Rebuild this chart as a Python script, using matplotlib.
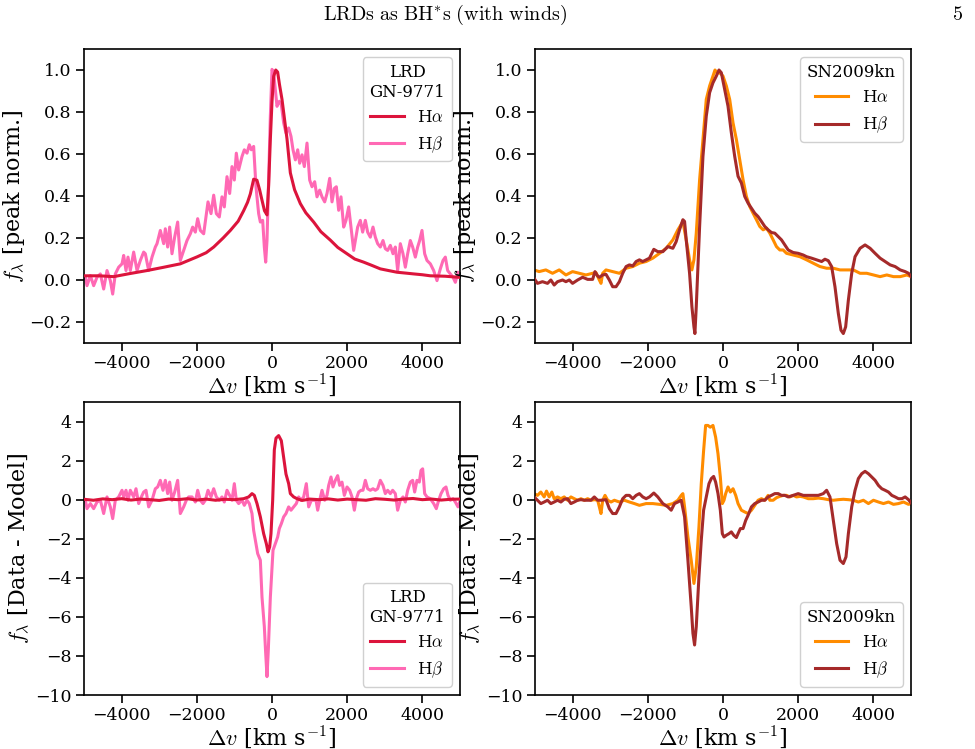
import matplotlib
matplotlib.use("Agg")
import matplotlib.pyplot as plt

plt.rcParams['font.family'] = ['DejaVu Serif']
plt.rcParams['mathtext.fontset'] = 'cm'

# ---------------- data ----------------
# Top-left: LRD GN-9771, peak normalised
lrd_ha_v = [-4964, -4600, -4211, -3800, -3324, -2900, -2438, -1995, -1750, -1550, -1300, -1108,
            -900, -754, -650, -576, -488, -400, -330, -266, -200, -133, -89, -44, 0, 44, 100, 150,
            200, 266, 330, 400, 488, 600, 753, 900, 1108, 1300, 1551, 1750, 1995, 2200, 2438,
            2650, 2881, 3100, 3324, 3550, 3768, 4000, 4211, 4600, 4964]
lrd_ha_f = [0.02, 0.02, 0.016, 0.03, 0.045, 0.06, 0.077, 0.11, 0.13, 0.157, 0.2, 0.236,
            0.28, 0.33, 0.37, 0.41, 0.48, 0.475, 0.43, 0.38, 0.33, 0.31, 0.45, 0.67, 0.85, 0.97, 1.0, 0.99,
            0.93, 0.86, 0.77, 0.67, 0.51, 0.43, 0.364, 0.32, 0.276, 0.23, 0.19, 0.155, 0.125, 0.1, 0.085,
            0.07, 0.053, 0.045, 0.037, 0.033, 0.029, 0.025, 0.02, 0.018, 0.013]

lrd_hb_v = [-4964, -4920, -4831, -4743, -4654, -4565, -4477, -4388, -4300, -4237, -4167, -4078,
            -3989, -3945, -3883, -3830, -3768, -3679, -3590, -3502, -3413, -3369, -3280, -3191,
            -3103, -3058, -2970, -2881, -2837, -2775, -2722, -2660, -2589, -2509, -2438, -2349,
            -2261, -2172, -2110, -2039, -1977, -1906, -1817, -1702, -1622, -1551, -1480, -1401,
            -1330, -1268, -1197, -1126, -1064, -1002, -949, -887, -798, -736, -665, -603, -550,
            -488, -426, -355, -310, -248, -204, -168, -133, -89, -44, 0, 44, 89, 133, 195, 248,
            310, 372, 443, 505, 559, 621, 683, 736, 798, 860, 931, 1002, 1064, 1135, 1197, 1268,
            1330, 1401, 1463, 1534, 1596, 1658, 1711, 1773, 1835, 1906, 1968, 2039, 2101, 2172,
            2216, 2278, 2349, 2411, 2482, 2544, 2615, 2686, 2748, 2810, 2881, 2952, 3014, 3076,
            3147, 3218, 3280, 3342, 3413, 3484, 3546, 3608, 3679, 3741, 3812, 3874, 3927, 3989,
            4060, 4122, 4211, 4300, 4388, 4477, 4548, 4610, 4672, 4743, 4814, 4876, 4947, 5009]
lrd_hb_f = [0.013, -0.027, 0.021, -0.027, 0.013, 0.029, -0.043, 0.045, -0.003, -0.067, 0.029, 0.061,
            0.077, 0.117, 0.045, 0.109, 0.045, 0.133, 0.045, 0.093, 0.133, 0.125, 0.045, 0.109,
            0.157, 0.173, 0.236, 0.173, 0.244, 0.157, 0.252, 0.125, 0.204, 0.276, 0.093, 0.141,
            0.188, 0.220, 0.252, 0.228, 0.292, 0.236, 0.220, 0.372, 0.316, 0.404, 0.316, 0.300,
            0.396, 0.348, 0.492, 0.412, 0.540, 0.476, 0.604, 0.524, 0.588, 0.620, 0.604, 0.644, 0.620,
            0.636, 0.444, 0.316, 0.276, 0.284, 0.157, 0.085, 0.188, 0.476, 0.780, 1.003, 0.987, 0.907, 0.827, 0.851, 0.835,
            0.748, 0.700, 0.724, 0.684, 0.620, 0.572, 0.620, 0.556, 0.596, 0.540, 0.652, 0.476, 0.444, 0.468, 0.396, 0.428,
            0.396, 0.372, 0.412, 0.484, 0.372, 0.436, 0.444, 0.332, 0.396, 0.252, 0.284, 0.348, 0.252, 0.141,
            0.188, 0.252, 0.284, 0.228, 0.284, 0.228, 0.204, 0.252, 0.204, 0.173, 0.157, 0.188, 0.149, 0.141,
            0.165, 0.125, 0.157, 0.045, 0.173, 0.125, 0.061, 0.125, 0.188, 0.157, 0.109, 0.157, 0.188, 0.236,
            0.125, 0.093, 0.077, 0.045, -0.003, 0.053, 0.093, 0.109, 0.045, 0.029, 0.013, -0.011, 0.037, 0.013]

# Top-right: SN2009kn, peak normalised
sn_ha_v = [-5023, -4890, -4712, -4534, -4356, -4178, -4001, -3823, -3645, -3467, -3378, -3289, -3245,
           -3200, -3112, -2934, -2756, -2578, -2400, -2223, -2045, -1867, -1689, -1511, -1334, -1200,
           -1067, -978, -889, -827, -773, -711, -622, -533, -445, -356, -267, -213, -160, -89, 0, 89,
           178, 267, 356, 445, 533, 622, 711, 800, 889, 978, 1067, 1156, 1245, 1334, 1422, 1511, 1600,
           1689, 1867, 2045, 2223, 2400, 2578, 2756, 2934, 3112, 3289, 3467, 3645, 3823, 4001, 4178,
           4356, 4534, 4712, 4890, 5005]
sn_ha_f = [0.048, 0.040, 0.048, 0.032, 0.048, 0.024, 0.040, 0.032, 0.024, 0.032, 0.035, 0.0, -0.016,
           0.032, 0.048, 0.040, 0.032, 0.056, 0.064, 0.080, 0.088, 0.104, 0.127, 0.151, 0.191, 0.239,
           0.278, 0.191, 0.096, 0.048, 0.096, 0.223, 0.478, 0.669, 0.860, 0.924, 0.971, 1.0, 0.987, 0.987, 0.971, 0.924,
           0.860, 0.748, 0.669, 0.573, 0.478, 0.398, 0.350, 0.318, 0.287, 0.255, 0.239, 0.247, 0.223, 0.191, 0.159, 0.143, 0.143,
           0.127, 0.119, 0.111, 0.096, 0.080, 0.064, 0.056, 0.056, 0.048, 0.048, 0.048, 0.032, 0.032, 0.024, 0.016,
           0.024, 0.016, 0.016, 0.024, 0.016]

sn_hb_v = [-5023, -4934, -4801, -4667, -4578, -4490, -4401, -4267, -4178, -4089, -4001, -3867, -3734,
           -3600, -3467, -3405, -3334, -3289, -3200, -3112, -3023, -2934, -2845, -2756, -2667, -2578,
           -2489, -2400, -2311, -2223, -2134, -2045, -1956, -1840, -1734, -1600, -1467, -1334, -1245,
           -1156, -1067, -1022, -978, -889, -827, -773, -747, -711, -622, -533, -445, -356, -267, -178,
           -107, -44, 44, 133, 222, 311, 400, 489, 578, 667, 756, 845, 933, 1022, 1111, 1200, 1289, 1378,
           1467, 1556, 1645, 1734, 1867, 2000, 2134, 2223, 2356, 2489, 2623, 2711, 2800, 2889, 2978, 3067,
           3138, 3200, 3262, 3334, 3423, 3512, 3645, 3778, 3912, 4045, 4178, 4312, 4445, 4578, 4712, 4845,
           4934, 5005]
sn_hb_f = [0.008, -0.016, -0.008, -0.016, 0.0, -0.024, -0.008, 0.0, -0.008, 0.0, -0.016, 0.0, 0.013,
           0.003, 0.003, 0.040, 0.019, 0.013, 0.024, 0.027, 0.0, -0.032, -0.032, -0.008, 0.032, 0.064,
           0.072, 0.067, 0.088, 0.096, 0.088, 0.096, 0.104, 0.146, 0.135, 0.135, 0.159, 0.151, 0.183,
           0.239, 0.287, 0.279, 0.191, 0.032, -0.127, -0.223, -0.255, -0.127, 0.255, 0.589, 0.780, 0.892, 0.939, 0.971,
           1.0, 0.987, 0.908, 0.828, 0.701, 0.589, 0.494, 0.462, 0.398, 0.366, 0.342, 0.318, 0.302, 0.279, 0.255, 0.239, 0.226, 0.223,
           0.207, 0.191, 0.167, 0.143, 0.131, 0.127, 0.119, 0.111, 0.104, 0.096, 0.088, 0.099, 0.092, 0.064, -0.032, -0.159,
           -0.239, -0.255, -0.223, -0.096, 0.032, 0.111, 0.151, 0.167, 0.151, 0.127, 0.104, 0.088, 0.072, 0.064, 0.048, 0.040,
           0.032, 0.016]

# Bottom-left: LRD residuals
lrd_res_ha_v = [-5000, -4750, -4500, -4250, -4000, -3750, -3500, -3250, -3000, -2750, -2500, -2250,
                -2000, -1750, -1500, -1250, -1000, -850, -754, -621, -532, -470, -399, -310, -222,
                -151, -106, -62, -27, 18, 62, 106, 177, 248, 310, 372, 443, 488, 576, 665, 800, 1000,
                1250, 1500, 1750, 2000, 2250, 2500, 2750, 3000, 3250, 3500, 3750, 4000, 4250, 4500,
                4750, 5000]
lrd_res_ha_f = [0.02, -0.03, 0.04, 0.0, 0.05, -0.02, 0.03, 0.0, -0.04, 0.03, 0.0, 0.05,
                -0.02, 0.03, -0.03, 0.02, 0.0, 0.03, 0.05, 0.14, 0.31, 0.22, -0.20, -0.88, -1.74,
                -2.25, -2.67, -2.42, -1.74, -0.03, 2.55, 3.15, 3.28, 3.02, 2.16, 1.31, 0.82, 0.31, 0.14, 0.05, -0.04, 0.03,
                0.0, 0.04, -0.02, 0.03, 0.0, -0.03, 0.05, 0.02, -0.02, 0.03, 0.06, 0.0, 0.03, -0.02,
                0.02, 0.03]

lrd_res_hb_v = [-4964, -4920, -4831, -4743, -4654, -4565, -4477, -4388, -4300, -4237, -4167, -4078,
                -3989, -3945, -3883, -3830, -3768, -3679, -3617, -3546, -3475, -3413, -3351, -3280,
                -3191, -3103, -3041, -2970, -2899, -2837, -2775, -2722, -2660, -2589, -2509, -2438,
                -2349, -2278, -2216, -2127, -2039, -1977, -1906, -1835, -1773, -1702, -1622, -1551,
                -1480, -1401, -1330, -1268, -1197, -1126, -1064, -1002, -949, -887, -798, -736, -665,
                -603, -532, -488, -443, -381, -310, -266, -204, -168, -133, -98, -44, 27, 89, 151, 195,
                248, 310, 372, 443, 505, 576, 647, 709, 771, 842, 913, 975, 1046, 1108, 1170, 1215, 1268,
                1330, 1401, 1463, 1507, 1569, 1622, 1684, 1746, 1799, 1862, 1924, 1995, 2066, 2128, 2190,
                2243, 2305, 2367, 2420, 2482, 2544, 2615, 2686, 2748, 2810, 2881, 2952, 3014, 3076, 3147,
                3209, 3280, 3342, 3413, 3484, 3546, 3608, 3679, 3741, 3794, 3856, 3918, 3963, 4007, 4060,
                4122, 4211, 4300, 4370, 4433, 4495, 4566, 4628, 4681, 4743, 4814, 4876, 4947, 5009]
lrd_res_hb_f = [-0.03, -0.46, -0.20, -0.46, -0.12, -0.03, -0.71, 0.14, -0.37, -0.97, -0.03, 0.14,
                0.48, 0.14, 0.48, -0.03, 0.48, 0.14, 0.56, -0.20, 0.14, 0.39, 0.48, -0.37,
                -0.03, 0.56, 0.65, 0.99, 0.48, 0.99, 0.31, 0.90, -0.03, 0.39, 0.99, -0.71,
                -0.37, -0.03, 0.14, 0.14, -0.12, 0.48, -0.03, -0.20, -0.03, 0.48, 0.14, 0.56,
                0.14, -0.03, 0.14, -0.12, 0.48, 0.22, -0.03, 0.82, -0.03, -0.20, -0.03, -0.29, -0.03,
                -0.20, -0.71, -1.57, -2.08, -2.76, -3.10, -4.99, -6.50, -7.86, -9.06, -7.69, -4.99, -2.59, -2.25, -1.91, -1.48,
                -1.23, -0.88, -0.71, -0.37, -0.54, -0.37, -0.20, 0.14, -0.03, 0.14, 0.82, -0.37, -0.03, -0.03, -0.03, -0.54, -0.03,
                0.48, -0.03, 0.22, 0.73, 1.16, 0.65, 0.99, 1.23, 0.73, 0.90, 0.22, 0.65, 0.48, 0.14, -0.54,
                0.05, 0.39, 0.48, 0.48, 0.99, 0.56, 0.48, 0.56, 0.48, 0.56, 0.99, 0.73, 0.31, 0.48, 0.31,
                0.48, 0.31, -0.54, -0.03, 0.14, -0.12, 0.48, 0.90, 0.99, 0.39, 0.99, 0.90, 1.50, 1.58, 0.31,
                0.14, 0.05, -0.20, -0.46, -0.03, 0.31, 0.56, 0.65, 0.22, -0.03, 0.05, -0.12, -0.37, -0.03]

# Bottom-right: SN2009kn residuals
sn_res_ha_v = [-5023, -4934, -4845, -4756, -4694, -4623, -4552, -4490, -4401, -4312, -4223, -4134,
               -4045, -3956, -3867, -3778, -3689, -3600, -3512, -3423, -3334, -3289, -3245, -3200,
               -3138, -3067, -2978, -2889, -2756, -2623, -2489, -2356, -2223, -2045, -1867, -1689,
               -1511, -1334, -1200, -1111, -1067, -1022, -933, -845, -773, -711, -640, -578, -516,
               -462, -400, -338, -267, -196, -133, -71, -18, 27, 71, 133, 196, 267, 338, 400, 489, 578,
               667, 756, 845, 933, 1022, 1111, 1200, 1245, 1334, 1422, 1511, 1600, 1689, 1778, 1867,
               1956, 2045, 2134, 2267, 2400, 2534, 2667, 2800, 2934, 3067, 3200, 3334, 3467, 3600,
               3734, 3867, 4001, 4134, 4267, 4401, 4534, 4667, 4801, 4934, 5005]
sn_res_ha_f = [0.31, 0.22, 0.39, 0.14, 0.44, 0.14, 0.39, 0.05, 0.14, 0.05, 0.14, -0.03,
               0.14, 0.05, -0.03, 0.05, -0.03, 0.05, -0.03, 0.0, -0.03, -0.37, -0.71, -0.03,
               0.22, -0.03, -0.12, -0.03, -0.12, -0.03, -0.12, -0.20, -0.29, -0.20, -0.20, -0.24,
               -0.29, -0.20, -0.03, 0.22, 0.31, -0.37, -1.91, -3.10, -4.29, -3.44, -1.40, 0.82, 2.50,
               3.80, 3.80, 3.71, 3.80, 3.20, 2.35, 1.16, -0.20, -0.03, 0.31, 0.65, 0.39, 0.56, 0.22, -0.20, -0.54, -0.63,
               -0.71, -0.54, -0.29, -0.03, 0.05, -0.03, 0.22, -0.03, -0.03, 0.10, 0.17, 0.22, 0.22, 0.14, 0.22,
               0.14, 0.17, 0.14, 0.05, 0.05, 0.08, 0.05, 0.0, -0.03, 0.0, 0.02, 0.0, -0.03, -0.12,
               -0.03, -0.20, -0.03, -0.12, -0.20, -0.12, -0.24, -0.20, -0.12, -0.24, -0.20]

sn_res_hb_v = [-5023, -4934, -4845, -4756, -4667, -4578, -4490, -4401, -4312, -4223, -4134, -4045,
               -3956, -3867, -3778, -3689, -3600, -3512, -3423, -3334, -3245, -3112, -3023, -2934,
               -2845, -2756, -2667, -2578, -2489, -2400, -2311, -2223, -2134, -2045, -1956, -1840,
               -1734, -1600, -1467, -1378, -1289, -1200, -1111, -1022, -933, -845, -800, -756, -711,
               -640, -578, -516, -445, -373, -311, -249, -196, -133, -71, -18, 27, 89, 160, 222, 284,
               356, 400, 462, 533, 604, 667, 756, 845, 933, 1022, 1111, 1200, 1289, 1378, 1467, 1556,
               1645, 1734, 1867, 2000, 2134, 2267, 2400, 2534, 2667, 2756, 2845, 2934, 3023, 3112, 3200,
               3271, 3334, 3423, 3512, 3600, 3689, 3778, 3867, 3956, 4045, 4134, 4223, 4312, 4401, 4490,
               4578, 4667, 4756, 4845, 4934, 5005]
sn_res_hb_f = [0.14, -0.03, -0.20, -0.12, -0.03, -0.20, -0.12, -0.03, -0.12, 0.02, 0.05, -0.20,
               -0.12, -0.03, 0.0, -0.03, -0.03, -0.03, 0.14, -0.03, -0.03, 0.0, -0.46, -0.71,
               -0.71, -0.37, 0.05, 0.22, 0.22, 0.05, 0.22, 0.31, 0.14, 0.05, 0.14, 0.34,
               0.14, -0.20, -0.37, -0.54, -0.20, -0.12, -0.03, -0.88, -3.10, -5.48, -6.84, -7.44, -6.50,
               -3.95, -2.08, -0.54, 0.14, 0.82, 1.08, 1.19, 0.90, 0.31, -0.54, -1.74, -1.91, -1.82, -1.74, -1.65, -1.82,
               -1.94, -1.74, -1.48, -1.48, -1.06, -0.80, -0.37, -0.20, -0.12, -0.03, -0.03, 0.14, 0.22, 0.31, 0.31, 0.22,
               0.22, 0.14, 0.22, 0.31, 0.22, 0.22, 0.22, 0.22, 0.31, 0.48, 0.14, -1.06, -2.25, -3.10, -3.27,
               -2.93, -1.74, -0.37, 0.48, 1.08, 1.33, 1.45, 1.33, 1.16, 0.99, 0.73, 0.56, 0.48, 0.39, 0.22,
               0.14, 0.05, 0.05, 0.14, 0.0, -0.17]

xticks = [-4000, -2000, 0, 2000, 4000]
top_yticks = [-0.2, 0.0, 0.2, 0.4, 0.6, 0.8, 1.0]
bot_yticks = [-10, -8, -6, -4, -2, 0, 2, 4]

c_lrd_ha = '#DC143C'
c_lrd_hb = '#FF69B4'
c_sn_ha = '#FF8C00'
c_sn_hb = '#A52A2A'

# ---------------- figure ----------------
fig = plt.figure(figsize=(9.75, 7.49), dpi=100)

W, H = 975.0, 749.0
def ax_at(x0, y0, x1, y1):
    return fig.add_axes([x0 / W, 1 - y1 / H, (x1 - x0) / W, (y1 - y0) / H])

ax_tl = ax_at(84, 49, 460, 343)
ax_tr = ax_at(535, 49, 911, 343)
ax_bl = ax_at(84, 402, 460, 695)
ax_br = ax_at(535, 402, 911, 695)

lw = 2.2
ax_tl.plot(lrd_ha_v, lrd_ha_f, color=c_lrd_ha, lw=lw, label=r'H$\alpha$', zorder=3)
ax_tl.plot(lrd_hb_v, lrd_hb_f, color=c_lrd_hb, lw=lw, label=r'H$\beta$', zorder=2)
ax_tr.plot(sn_ha_v, sn_ha_f, color=c_sn_ha, lw=lw, label=r'H$\alpha$', zorder=2)
ax_tr.plot(sn_hb_v, sn_hb_f, color=c_sn_hb, lw=lw, label=r'H$\beta$', zorder=3)
ax_bl.plot(lrd_res_ha_v, lrd_res_ha_f, color=c_lrd_ha, lw=lw, label=r'H$\alpha$', zorder=3)
ax_bl.plot(lrd_res_hb_v, lrd_res_hb_f, color=c_lrd_hb, lw=lw, label=r'H$\beta$', zorder=2)
ax_br.plot(sn_res_ha_v, sn_res_ha_f, color=c_sn_ha, lw=lw, label=r'H$\alpha$', zorder=2)
ax_br.plot(sn_res_hb_v, sn_res_hb_f, color=c_sn_hb, lw=lw, label=r'H$\beta$', zorder=3)

for ax in (ax_tl, ax_tr, ax_bl, ax_br):
    ax.set_xlim(-5000, 5000)
    ax.set_xticks(xticks)
    ax.tick_params(direction='out', length=6, width=1.2, labelsize=12.5, pad=3)
    for s in ax.spines.values():
        s.set_linewidth(1.2)
    ax.set_xlabel(r'$\Delta v$ [km s$^{-1}$]', fontsize=16, labelpad=0)

for ax in (ax_tl, ax_tr):
    ax.set_ylim(-0.3, 1.1)
    ax.set_yticks(top_yticks)
    ax.set_ylabel(r'$f_\lambda$ [peak norm.]', fontsize=16, labelpad=2)
for ax in (ax_bl, ax_br):
    ax.set_ylim(-10, 5)
    ax.set_yticks(bot_yticks)
    ax.set_ylabel(r'$f_\lambda$ [Data - Model]', fontsize=16, labelpad=2)

leg_kw = dict(fontsize=12, title_fontsize=12, framealpha=1.0, edgecolor='#d0d0d0')
for ax, title, loc in ((ax_tl, 'LRD\nGN-9771', 'upper right'),
                       (ax_tr, 'SN2009kn', 'upper right'),
                       (ax_bl, 'LRD\nGN-9771', 'lower right'),
                       (ax_br, 'SN2009kn', 'lower right')):
    leg = ax.legend(title=title, loc=loc, **leg_kw)
    leg.get_title().set_multialignment('center')

fig.text(445 / W, 1 - 15 / H, r'$\mathrm{LRDs\ as\ BH}^{*}\mathrm{s\ (with\ winds)}$', ha='center', va='center', fontsize=14.5)
fig.text(958 / W, 1 - 15 / H, r'$\mathrm{5}$', ha='center', va='center', fontsize=14.5)

fig.savefig('out.png', dpi=100)
